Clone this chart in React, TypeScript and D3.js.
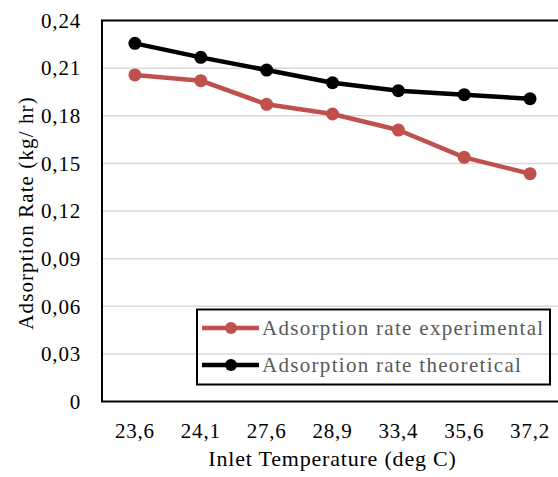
import React from "react";
import * as d3 from "d3";

const categories = ["23,6", "24,1", "27,6", "28,9", "33,4", "35,6", "37,2"];
const experimental = [0.2057, 0.2021, 0.1872, 0.1811, 0.171, 0.1538, 0.1435];
const theoretical = [0.2256, 0.2168, 0.2088, 0.2008, 0.1958, 0.1933, 0.1907];
const yTicks = [0, 0.03, 0.06, 0.09, 0.12, 0.15, 0.18, 0.21, 0.24];
const seriesNames = ["Adsorption rate experimental", "Adsorption rate theoretical"];
const seriesColors = ["#C0504D", "#000000"];

const W = 558;
const H = 477;
const plot = { left: 102, right: 563, top: 20.5, bottom: 401.5 };
const FONT = "Liberation Serif, Tinos, Times New Roman, Times, DejaVu Serif, serif";

export default function App() {
  const x = d3.scaleBand<string>().domain(categories).range([plot.left, plot.right]).padding(0);
  const y = d3.scaleLinear().domain([0, 0.24]).range([plot.bottom, plot.top]);
  const cx = (c: string) => (x(c) as number) + x.bandwidth() / 2;
  const line = d3
    .line<number>()
    .x((_, i) => cx(categories[i]))
    .y((d) => y(d));
  const fmt = (v: number) => (v === 0 ? "0" : v.toFixed(2).replace(".", ","));
  const series = [experimental, theoretical];

  return (
    <svg
      width={W}
      height={H}
      style={{ position: "absolute", left: 0, top: 0, background: "#fff", fontFamily: FONT }}
    >
      <rect x={0} y={0} width={W} height={H} fill="#fff" />
      {yTicks.slice(1, -1).map((t) => (
        <line key={t} x1={plot.left} x2={plot.right} y1={y(t)} y2={y(t)} stroke="#d9d9d9" strokeWidth={1.5} />
      ))}
      <rect
        x={plot.left}
        y={plot.top}
        width={plot.right - plot.left}
        height={plot.bottom - plot.top}
        fill="none"
        stroke="#000"
        strokeWidth={2}
      />
      {yTicks.map((t) => (
        <text key={t} x={81} y={y(t)} dy="0.35em" textAnchor="end" fontSize={21} letterSpacing={0.8} fill="#000">
          {fmt(t)}
        </text>
      ))}
      {categories.map((c) => (
        <text key={c} x={cx(c)} y={438} textAnchor="middle" fontSize={21} letterSpacing={0.8} fill="#000">
          {c}
        </text>
      ))}
      <text x={(cx(categories[0]) + cx(categories[6])) / 2} y={466} textAnchor="middle" fontSize={22} letterSpacing={0.8} fill="#000">
        Inlet Temperature (deg C)
      </text>
      <text
        transform={`translate(33, ${(plot.top + plot.bottom) / 2 + 2}) rotate(-90)`}
        textAnchor="middle"
        fontSize={21}
        letterSpacing={1.1}
        fill="#000"
      >
        Adsorption Rate (kg/ hr)
      </text>
      {series.map((s, k) => (
        <g key={k}>
          <path d={line(s) || ""} fill="none" stroke={seriesColors[k]} strokeWidth={4.5} strokeLinejoin="round" />
          {s.map((v, i) => (
            <circle key={i} cx={cx(categories[i])} cy={y(v)} r={6.5} fill={seriesColors[k]} />
          ))}
        </g>
      ))}
      <rect x={197} y={309.5} width={353} height={75} fill="none" stroke="#000" strokeWidth={2} />
      {seriesNames.map((n, k) => {
        const ly = 328 + k * 37;
        return (
          <g key={n}>
            <line x1={202} x2={259} y1={ly} y2={ly} stroke={seriesColors[k]} strokeWidth={4.5} />
            <circle cx={231} cy={ly} r={6} fill={seriesColors[k]} />
            <text x={262} y={ly} dy="0.33em" fontSize={21} letterSpacing={1.3} fill="#595959">
              {n}
            </text>
          </g>
        );
      })}
    </svg>
  );
}
